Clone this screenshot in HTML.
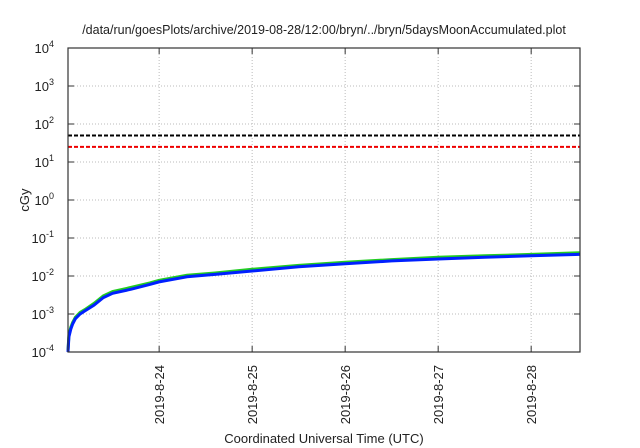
<!DOCTYPE html>
<html><head><meta charset="utf-8"><style>
body{margin:0;background:#fff}
svg{display:block;font-family:"Liberation Sans",sans-serif}
</style></head><body>
<svg id="c" width="640" height="448"></svg>
<script>
const days=[23.02,23.03,23.05,23.07,23.1,23.15,23.2,23.3,23.4,23.5,23.7,23.9,24.0,24.3,24.6,25.0,25.5,26.0,26.5,27.0,27.5,28.0,28.52];
const doseBlue=[0.0001,0.00025,0.0004,0.00055,0.00075,0.001,0.0012,0.0017,0.0027,0.0035,0.0045,0.006,0.007,0.0095,0.011,0.0135,0.0175,0.021,0.025,0.028,0.031,0.034,0.037];
const doseGreen=[0.00011,0.00028,0.00045,0.0006,0.00082,0.0011,0.0013,0.0019,0.003,0.0039,0.005,0.0066,0.0077,0.0105,0.012,0.015,0.019,0.023,0.027,0.031,0.034,0.037,0.041];
const thresholds=[50,25];
const thresholdColors=["#000","#e00"];
const xTickDays=[24,25,26,27,28];
const xTickLabels=["2019-8-24","2019-8-25","2019-8-26","2019-8-27","2019-8-28"];
const yExps=[-4,-3,-2,-1,0,1,2,3,4];
const L=68,R=580,T=48,B=352,x0=23.02,x1=28.525;
const X=d=>L+(d-x0)/(x1-x0)*(R-L);
const Y=v=>B-(Math.log10(v)+4)/8*(B-T);
const s=document.getElementById('c');const NS="http://www.w3.org/2000/svg";
function el(t,a,p){const e=document.createElementNS(NS,t);for(const k in a)e.setAttribute(k,a[k]);(p||s).appendChild(e);return e;}
let e;
e=el('text',{x:324,y:34,'text-anchor':'middle','font-size':12.5,fill:'#222'});e.textContent="/data/run/goesPlots/archive/2019-08-28/12:00/bryn/../bryn/5daysMoonAccumulated.plot";

yExps.forEach(p=>{const y=Y(Math.pow(10,p));
 if(p>-4&&p<4){e=el('line',{x1:L,x2:R,y1:y,y2:y,stroke:'#bbb','stroke-dasharray':'1,2'});
 el('line',{x1:L,x2:L+6,y1:y,y2:y,stroke:'#333'});el('line',{x1:R-6,x2:R,y1:y,y2:y,stroke:'#333'});}
 e=el('text',{x:54,y:y+5,'text-anchor':'end','font-size':13,fill:'#222'});e.textContent="10";
 const t=el('tspan',{dy:-6,'font-size':9},e);t.textContent=String(p);
 });
xTickDays.forEach((d,i)=>{const x=X(d);
 e=el('line',{x1:x,x2:x,y1:T,y2:B,stroke:'#bbb','stroke-dasharray':'1,2'});
 el('line',{x1:x,x2:x,y1:B-6,y2:B,stroke:'#333'});el('line',{x1:x,x2:x,y1:T,y2:T+6,stroke:'#333'});
 e=el('text',{x:0,y:0,'text-anchor':'end','font-size':13,fill:'#222',transform:`translate(${x+5},365) rotate(-90)`});e.textContent=xTickLabels[i];
 });
thresholds.forEach((v,i)=>{e=el('line',{x1:L,x2:R,y1:Y(v),y2:Y(v),stroke:thresholdColors[i],'stroke-width':2,'stroke-dasharray':'4,2'});
 });
function line(vals,c,w,n){const d=days.map((t,i)=>(i?'L':'M')+X(t).toFixed(1)+','+Y(vals[i]).toFixed(1)).join('');
 const p=el('path',{d,fill:'none',stroke:c,'stroke-width':w});}
line(doseGreen,'#2c2','3','series-green');
line(doseBlue,'#0020ff','3','series-blue');
e=el('rect',{x:L,y:T,width:R-L,height:B-T,fill:'none',stroke:'#333','stroke-width':1.2});
e=el('text',{x:0,y:0,'text-anchor':'middle','font-size':13,fill:'#222',transform:'translate(29,200) rotate(-90)'});e.textContent="cGy";

e=el('text',{x:324,y:443,'text-anchor':'middle','font-size':13,fill:'#222'});e.textContent="Coordinated Universal Time (UTC)";

</script>
</body></html>
